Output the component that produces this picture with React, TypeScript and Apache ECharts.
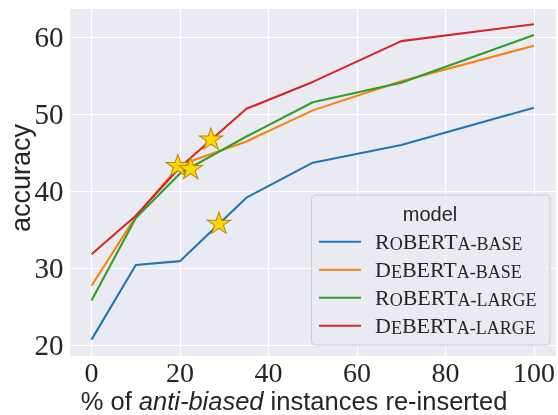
import React, { useEffect, useRef } from "react";
import * as echarts from "echarts";

// ---- data ----
const xValues = [0, 10, 20, 35, 50, 70, 100];
const robertaBase = [20.7, 30.4, 30.9, 39.15, 43.7, 46.0, 50.85];
const debertaBase = [27.7, 36.7, 43.4, 46.45, 50.5, 54.3, 58.9];
const robertaLarge = [25.8, 36.5, 42.3, 47.1, 51.55, 54.1, 60.3];
const debertaLarge = [31.8, 36.8, 43.1, 50.7, 54.2, 59.5, 61.7];
const starX = [19.5, 22.4, 27.0, 28.8];
const starY = [43.4, 43.0, 46.85, 35.9];

const seriesNames = ["RoBERTa-base", "DeBERTa-base", "RoBERTa-large", "DeBERTa-large"];
const seriesValues = [robertaBase, debertaBase, robertaLarge, debertaLarge];
const seriesColors = ["#1f77b4", "#ff7f0e", "#2ca02c", "#d62728"];
// small-caps rendering of the legend labels
const legendLabels: Record<string, string> = {
  "RoBERTa-base": "{c0|R}{s|O}{c|BERT}{s|A-BASE}",
  "DeBERTa-base": "{c0|D}{s|E}{c|BERT}{s|A-BASE}",
  "RoBERTa-large": "{c0|R}{s|O}{c|BERT}{s|A-LARGE}",
  "DeBERTa-large": "{c0|D}{s|E}{c|BERT}{s|A-LARGE}",
};
const legendTitle = "model";
const xAxisTitle = "{n|% of }{i|anti-biased}{n| instances re-inserted}";
const yAxisTitle = "accuracy";

const STAR =
  "path://M0,-100L22.45,-30.9L95.1,-30.9L36.33,11.8L58.78,80.9L0,38.2L-58.78,80.9L-36.33,11.8L-95.1,-30.9L-22.45,-30.9Z";

const TEXT = "#262626";
const SERIF = "Liberation Serif";
const SANS = "Liberation Sans";

export default function App() {
  const ref = useRef<HTMLDivElement>(null);
  useEffect(() => {
    if (!ref.current) return;
    const chart = echarts.init(ref.current, undefined, { renderer: "svg" });
    const lineSeries = seriesNames.map((name, k) => ({
      name,
      type: "line",
      symbol: "none",
      data: xValues.map((x, i) => [x, seriesValues[k][i]]),
      lineStyle: { color: seriesColors[k], width: 2.1 },
      itemStyle: { color: seriesColors[k] },
      z: 2,
    }));
    chart.setOption({
      animation: false,
      grid: {
        left: 69.4,
        top: 8.45,
        width: 491.3,
        height: 347.7,
        show: true,
        backgroundColor: "#EAEAF2",
        borderWidth: 0,
      },
      xAxis: {
        type: "value",
        min: -5,
        max: 105,
        splitNumber: 5,
        axisLine: { show: false },
        axisTick: { show: false },
        splitLine: { show: true, lineStyle: { color: "#ffffff", width: 1.2 } },
        axisLabel: {
          showMinLabel: false,
          showMaxLabel: false,
          fontFamily: SERIF,
          fontSize: 28,
          lineHeight: 26,
          color: TEXT,
          margin: 3,
        },
      },
      yAxis: {
        type: "value",
        min: 18.55,
        max: 63.75,
        splitNumber: 5,
        axisLine: { show: false },
        axisTick: { show: false },
        splitLine: { show: true, lineStyle: { color: "#ffffff", width: 1.2 } },
        axisLabel: {
          showMinLabel: false,
          showMaxLabel: false,
          fontFamily: SERIF,
          fontSize: 29,
          color: TEXT,
          margin: 6,
        },
      },
      legend: {
        orient: "vertical",
        left: 319,
        top: 230.7,
        padding: 0,
        itemGap: 6,
        itemWidth: 42,
        itemHeight: 2.1,
        icon: "rect",
        selectedMode: false,
        data: seriesNames,
        formatter: (n: string) => legendLabels[n],
        z: 20,
        textStyle: {
          color: TEXT,
          rich: {
            c0: { fontFamily: SERIF, fontSize: 22, lineHeight: 22, verticalAlign: "bottom", padding: [0, 0, 0, 9], color: TEXT },
            c: { fontFamily: SERIF, fontSize: 22, lineHeight: 22, verticalAlign: "bottom", color: TEXT },
            s: { fontFamily: SERIF, fontSize: 18, lineHeight: 19.3, verticalAlign: "bottom", color: TEXT },
          },
        },
      },
      graphic: [
        {
          type: "rect",
          z: 15,
          shape: { x: 311.5, y: 195, width: 238.5, height: 150, r: 4 },
          style: { fill: "rgba(234,234,242,0.8)", stroke: "#cccccc", lineWidth: 1 },
        },
        {
          type: "text",
          z: 21,
          x: 430,
          y: 213.5,
          style: { text: legendTitle, fontFamily: SANS, fontSize: 20, fill: TEXT, align: "center", verticalAlign: "middle" },
        },
        {
          type: "text",
          z: 21,
          x: 294,
          y: 400.5,
          style: {
            text: xAxisTitle,
            fill: TEXT,
            align: "center",
            verticalAlign: "middle",
            rich: {
              n: { fontFamily: SANS, fontSize: 25.5, lineHeight: 23, fill: TEXT },
              i: { fontFamily: SANS, fontSize: 25.5, lineHeight: 23, fontStyle: "italic", fill: TEXT },
            },
          },
        },
        {
          type: "text",
          z: 21,
          x: 21,
          y: 178,
          rotation: Math.PI / 2,
          style: { text: yAxisTitle, fontFamily: SANS, fontSize: 27, fill: TEXT, align: "center", verticalAlign: "middle" },
        },
      ],
      series: [
        ...lineSeries,
        {
          name: "threshold",
          type: "scatter",
          symbol: STAR,
          symbolKeepAspect: true,
          symbolSize: [23.4, 22.3],
          data: starX.map((x, i) => [x, starY[i]]),
          itemStyle: { color: "#FFD700", borderColor: "#b8860b", borderWidth: 1, opacity: 1 },
          z: 5,
        },
      ],
    });
    return () => chart.dispose();
  }, []);
  return <div ref={ref} style={{ position: "fixed", left: 0, top: 0, width: 558, height: 415 }} />;
}
